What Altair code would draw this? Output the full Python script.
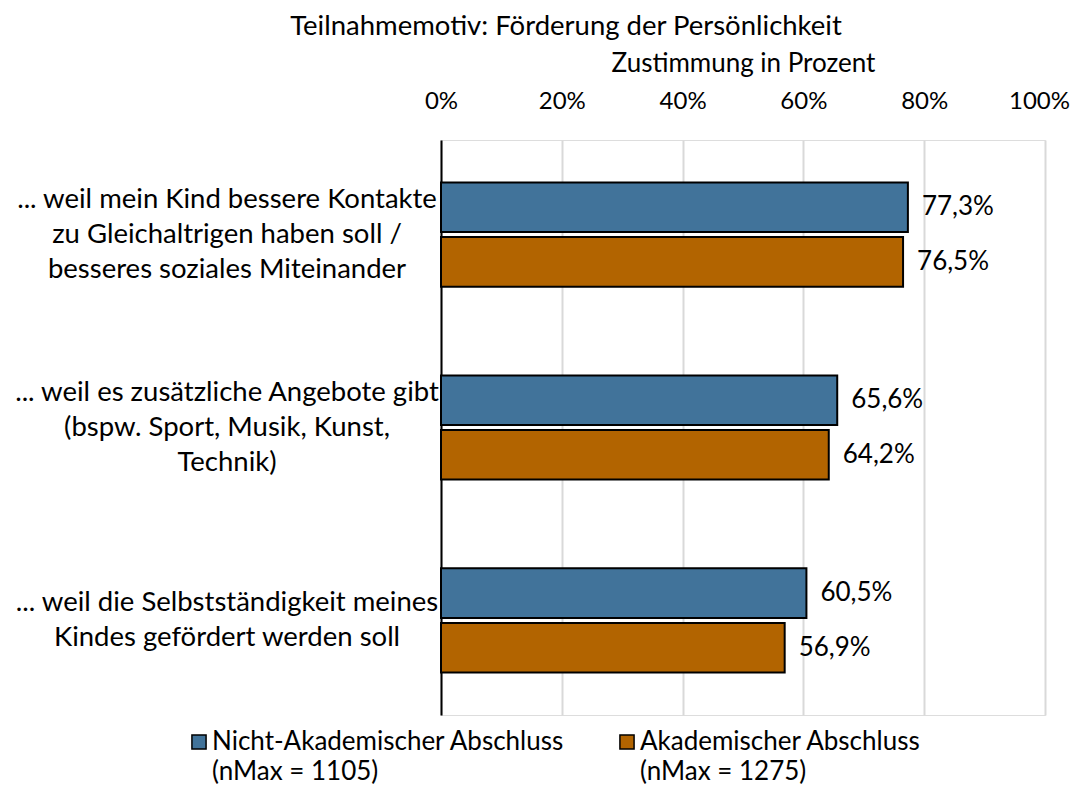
import altair as alt
import pandas as pd

categories = [
    "... weil mein Kind bessere Kontakte|zu Gleichaltrigen haben soll /|besseres soziales Miteinander",
    "... weil es zusätzliche Angebote gibt|(bspw. Sport, Musik, Kunst,|Technik)",
    "... weil die Selbstständigkeit meines|Kindes gefördert werden soll",
]
series = ["Nicht-Akademischer Abschluss|(nMax = 1105)", "Akademischer Abschluss|(nMax = 1275)"]
values_nicht_akad = [77.3, 65.6, 60.5]
values_akad = [76.5, 64.2, 56.9]
colors = ["#41739A", "#B26400"]
x_ticks = [0, 20, 40, 60, 80, 100]

rows = []
for c, a, b in zip(categories, values_nicht_akad, values_akad):
    for s, v in zip(series, [a, b]):
        rows.append({"cat": c, "series": s, "value": v,
                     "label": f"{v:.1f}".replace(".", ",") + "%"})
df = pd.DataFrame(rows)
cat_df = pd.DataFrame({"cat": categories, "nlines": [c.count("|") + 1 for c in categories]})

FONT = "Lato"
FS = 26
FS_CAT = 27.5
LH = 35

y_enc = alt.Y("cat:N", sort=categories,
              scale=alt.Scale(paddingInner=0.46, paddingOuter=0.22),
              axis=alt.Axis(labels=False, ticks=False, title=None,
                            domainColor="black", domainWidth=2, grid=False))
yoff = alt.YOffset("series:N", sort=series,
                   scale=alt.Scale(paddingInner=0.09, paddingOuter=0))
x_enc = alt.X("value:Q", scale=alt.Scale(domain=[0, 100]),
              axis=alt.Axis(orient="top", values=x_ticks,
                            labelExpr="datum.value + '%'",
                            labelFlush=False,
                            title="Zustimmung in Prozent",
                            titleFontWeight="normal", titleFontSize=FS, titleFont=FONT,
                            titlePadding=13, titleColor="black",
                            labelFontSize=24, labelFont=FONT, labelColor="black",
                            labelPadding=27,
                            labelOffset=alt.ConditionalAxisNumber(
                                condition={"test": "datum.value == 100", "value": -6}, value=0),
                            domain=False, ticks=False,
                            grid=True, gridColor="#D9D9D9", gridWidth=2))

bars = alt.Chart(df).mark_bar(stroke="black", strokeWidth=2).encode(
    x=x_enc, y=y_enc, yOffset=yoff,
    color=alt.Color("series:N", sort=series,
                    scale=alt.Scale(domain=series, range=colors),
                    legend=alt.Legend(title=None, orient="none", direction="horizontal",
                                      legendX=-255, legendY=589,
                                      symbolType="square", symbolSize=200,
                                      symbolStrokeColor="black", symbolStrokeWidth=1.5,
                                      symbolOpacity=1,
                                      labelExpr="split(datum.label, '|')",
                                      labelFont=FONT, labelFontSize=FS, labelColor="black",
                                      labelOffset=0, columnPadding=49,
                                      labelLimit=600)),
)

vlabels = alt.Chart(df).mark_text(align="left", baseline="middle", dx=14,
                                  font=FONT, fontSize=FS, color="black").encode(
    x="value:Q", y=alt.Y("cat:N", sort=categories), yOffset=yoff, text="label:N")

cat3 = alt.Chart(cat_df).transform_filter("datum.nlines == 3").mark_text(
    align="center", baseline="middle", lineBreak="|", lineHeight=LH, dy=-LH,
    font=FONT, fontSize=FS_CAT, color="black").encode(
    y=alt.Y("cat:N", sort=categories), x=alt.value(-214), text="cat:N")
cat2 = alt.Chart(cat_df).transform_filter("datum.nlines == 2").mark_text(
    align="center", baseline="middle", lineBreak="|", lineHeight=LH, dy=-LH / 2,
    font=FONT, fontSize=FS_CAT, color="black").encode(
    y=alt.Y("cat:N", sort=categories), x=alt.value(-214), text="cat:N")

chart = alt.layer(bars, vlabels, cat3, cat2).properties(
    width=604, height=575,
    title=alt.TitleParams("Teilnahmemotiv: Förderung der Persönlichkeit",
                          font=FONT, fontSize=FS_CAT, fontWeight="normal", color="black",
                          anchor="middle", dx=-177, offset=10),
    autosize=alt.AutoSizeParams(type="none"),
    padding={"left": 433, "top": 132, "right": 25, "bottom": 73},
).configure_view(stroke=None).configure(font=FONT, style={"guide-label": {"lineHeight": 30}})

chart.save("out.html", embed_options={"renderer": "svg", "actions": False})
